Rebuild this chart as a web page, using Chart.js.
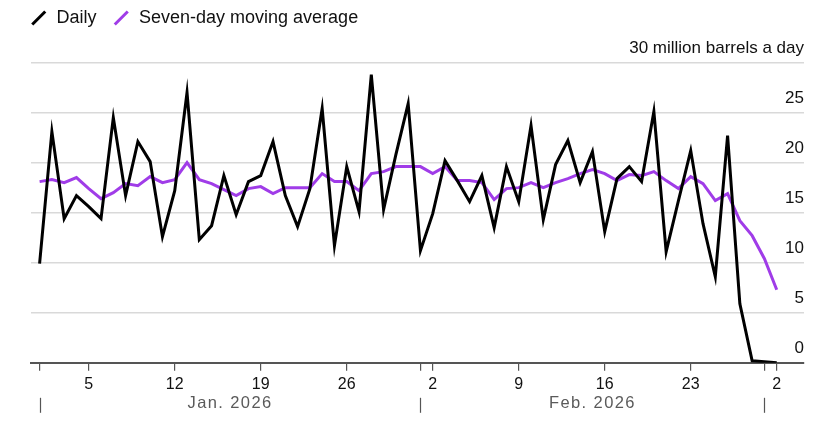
<!DOCTYPE html>
<html>
<head>
<meta charset="utf-8">
<script src="https://cdn.jsdelivr.net/npm/chart.js@4"></script>
<style>
  html, body { margin: 0; padding: 0; background: #fff; }
  #wrap { width: 838px; height: 440px; position: relative; }
</style>
</head>
<body>
<div id="wrap"><canvas id="chart"></canvas></div>
<script>
// one entry per day, Jan 1 2026 .. Mar 2 2026
const dates = [
  'Jan 1', 'Jan 2', 'Jan 3', 'Jan 4', 'Jan 5', 'Jan 6', 'Jan 7', 'Jan 8', 'Jan 9', 'Jan 10',
  'Jan 11', 'Jan 12', 'Jan 13', 'Jan 14', 'Jan 15', 'Jan 16', 'Jan 17', 'Jan 18', 'Jan 19', 'Jan 20',
  'Jan 21', 'Jan 22', 'Jan 23', 'Jan 24', 'Jan 25', 'Jan 26', 'Jan 27', 'Jan 28', 'Jan 29', 'Jan 30',
  'Jan 31', 'Feb 1', 'Feb 2', 'Feb 3', 'Feb 4', 'Feb 5', 'Feb 6', 'Feb 7', 'Feb 8', 'Feb 9',
  'Feb 10', 'Feb 11', 'Feb 12', 'Feb 13', 'Feb 14', 'Feb 15', 'Feb 16', 'Feb 17', 'Feb 18', 'Feb 19',
  'Feb 20', 'Feb 21', 'Feb 22', 'Feb 23', 'Feb 24', 'Feb 25', 'Feb 26', 'Feb 27', 'Feb 28', 'Mar 1',
  'Mar 2'
];

const daily = [
  9.9, 23.1, 14.4, 16.7, 15.6, 14.4, 24.5, 16.7, 22.1, 20.1,
  12.6, 17.2, 27.0, 12.3, 13.7, 18.7, 14.8, 18.1, 18.7, 22.1,
  16.7, 13.6, 17.4, 25.4, 11.7, 19.6, 15.1, 28.8, 15.3, 20.8,
  25.9, 11.2, 14.9, 20.2, 18.2, 16.1, 18.7, 13.5, 19.6, 16.1,
  23.7, 14.3, 19.8, 22.2, 18.0, 21.1, 13.1, 18.4, 19.6, 18.1,
  25.1, 11.1, 16.2, 21.2, 13.9, 8.6, 22.7, 5.9, 0.2, 0.1,
  0.0
];

const movingAvg = [
  18.1, 18.3, 18.0, 18.5, 17.4, 16.4, 17.0, 17.9, 17.7, 18.6,
  18.0, 18.3, 20.0, 18.3, 17.9, 17.3, 16.7, 17.4, 17.6, 16.9,
  17.5, 17.5, 17.5, 18.9, 18.1, 18.1, 17.2, 18.9, 19.1, 19.6,
  19.6, 19.6, 18.9, 19.6, 18.2, 18.2, 18.0, 16.3, 17.4, 17.5,
  18.0, 17.5, 18.0, 18.4, 18.9, 19.3, 18.9, 18.2, 18.8, 18.7,
  19.1, 18.2, 17.4, 18.6, 17.9, 16.2, 16.9, 14.2, 12.7, 10.4,
  7.3
];

// x ticks: index into dates, and the label shown under it
const xTickPositions = [0, 4, 11, 18, 25, 31, 32, 39, 46, 53, 59, 60];
const xTickLabels = ['', '5', '12', '19', '26', '', '2', '9', '16', '23', '', '2'];

const months = ['Jan. 2026', 'Feb. 2026', ''];
const monthStarts = [0, 31, 59];
const monthEnds = [31, 59, 62];

const unitLabel = '30 million barrels a day';

const FONT = '"Liberation Sans", Arial, Helvetica, sans-serif';
Chart.defaults.font.family = FONT;
Chart.defaults.color = '#111';

const toPoints = (arr) => arr.map((v, i) => ({ x: i, y: v }));

const monthAxis = {
  id: 'monthAxis',
  afterDraw(chart) {
    const { ctx } = chart;
    const x = chart.scales.x;
    const axisY = x.top;
    ctx.save();
    ctx.strokeStyle = '#555';
    ctx.lineWidth = 1.2;
    monthStarts.forEach((start) => {
      const px = Math.round(x.getPixelForValue(start)) + 0.5;
      ctx.beginPath();
      ctx.moveTo(px, axisY + 35);
      ctx.lineTo(px, axisY + 50);
      ctx.stroke();
    });
    ctx.font = '16.5px ' + FONT;
    ctx.fillStyle = '#5a5a5a';
    ctx.textAlign = 'center';
    ctx.textBaseline = 'middle';
    ctx.letterSpacing = '1.4px';
    months.forEach((label, i) => {
      if (!label) return;
      const cx = (x.getPixelForValue(monthStarts[i]) + x.getPixelForValue(monthEnds[i])) / 2;
      ctx.fillText(label, cx, axisY + 41);
    });
    ctx.restore();
  }
};

new Chart(document.getElementById('chart'), {
  type: 'line',
  data: {
    datasets: [
      {
        label: 'Daily',
        data: toPoints(daily),
        xAxisID: 'x',
        yAxisID: 'y',
        borderColor: '#000',
        backgroundColor: '#000',
        borderWidth: 3,
        pointRadius: 0,
        pointHoverRadius: 0,
        pointBorderWidth: 3,
        pointRotation: -45,
        tension: 0
      },
      {
        label: 'Seven-day moving average',
        data: toPoints(movingAvg),
        xAxisID: 'x',
        yAxisID: 'y',
        borderColor: '#a03ce8',
        backgroundColor: '#a03ce8',
        borderWidth: 3,
        pointRadius: 0,
        pointHoverRadius: 0,
        pointBorderWidth: 3,
        pointRotation: -45,
        tension: 0
      }
    ]
  },
  options: {
    responsive: true,
    maintainAspectRatio: false,
    animation: false,
    events: [],
    layout: { padding: { top: -7, left: 14, right: 34, bottom: 42 } },
    plugins: {
      tooltip: { enabled: false },
      legend: {
        position: 'top',
        align: 'start',
        labels: {
          usePointStyle: true,
          pointStyle: 'line',
          boxWidth: 17.5,
          boxHeight: 13,
          padding: 16,
          color: '#111',
          font: { size: 18 }
        }
      }
    },
    scales: {
      x: {
        type: 'linear',
        position: 'bottom',
        min: -0.7,
        max: 62.22,
        afterBuildTicks(scale) {
          scale.ticks = xTickPositions.map((v) => ({ value: v }));
        },
        ticks: {
          autoSkip: false,
          maxRotation: 0,
          padding: 4,
          color: '#111',
          font: { size: 16 },
          callback: (value, index) => xTickLabels[index] ?? ''
        },
        grid: {
          display: true,
          drawOnChartArea: false,
          drawTicks: true,
          tickLength: 8,
          color: '#555',
          lineWidth: 1.2
        },
        border: { display: true, color: '#555', width: 2 }
      },
      padTop: {
        type: 'linear',
        position: 'top',
        display: true,
        grid: { display: false },
        border: { display: false },
        ticks: { display: false },
        afterFit(scale) { scale.height = 25.5; }
      },
      y: {
        type: 'linear',
        position: 'right',
        min: 0,
        max: 30,
        ticks: {
          stepSize: 5,
          mirror: true,
          padding: 0,
          labelOffset: -14,
          color: '#111',
          font: { size: 17 },
          callback: (value) => (value === 30 ? unitLabel : value)
        },
        grid: {
          drawTicks: false,
          color: (ctx) => (ctx.tick && ctx.tick.value === 0 ? 'rgba(0,0,0,0)' : '#d9d9d9'),
          lineWidth: 1.5
        },
        border: { display: false }
      },
      padLeft: {
        type: 'linear',
        position: 'left',
        display: true,
        grid: { display: false },
        border: { display: false },
        ticks: { display: false },
        afterFit(scale) { scale.width = 17; }
      }
    }
  },
  plugins: [monthAxis]
});
</script>
</body>
</html>
